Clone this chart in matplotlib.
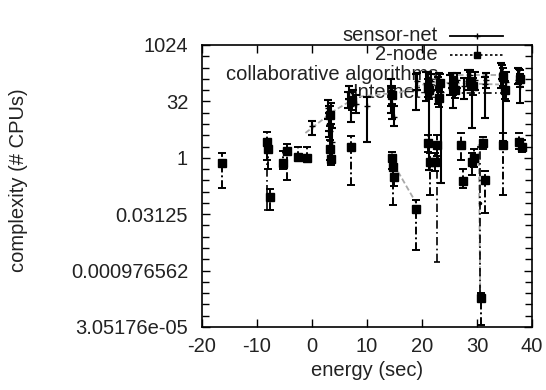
import numpy as np
import matplotlib
matplotlib.use('Agg')
import matplotlib.pyplot as plt
from matplotlib.ticker import NullFormatter

plt.rcParams['font.family'] = ['Liberation Sans', 'DejaVu Sans']
plt.rcParams['font.size'] = 14.5

# y values are given as log2(complexity)
# sensor-net: x, value, low, high
sn_x = [0.0, 2.9, 3.1, 3.3, 3.6, 3.4, 3.0, 6.6, 7.0, 7.5, 8.0, 6.8, 10.0, 14.3, 14.6,
        14.9, 14.4, 18.9, 19.1, 20.8, 21.2, 21.6, 21.0, 22.9, 23.4, 23.1, 25.0, 25.7,
        25.4, 26.4, 27.6, 28.4, 29.0, 29.7, 28.7, 31.4, 31.7, 34.4, 34.8, 35.2, 34.6,
        37.5, 37.9, 37.7]
sn_lg = [2.8, 4.4, 3.5, 2.4, 1.4, 4.0, 3.0, 5.2, 4.6, 5.5, 4.8, 5.8, 4.6, 6.0, 4.8,
         3.6, 5.4, 6.0, 6.8, 6.6, 5.6, 6.8, 7.2, 6.3, 5.8, 6.9, 6.6, 6.0,
         6.9, 6.9, 6.4, 6.8, 6.2, 6.9, 7.3, 6.5, 6.9, 7.0, 6.3, 6.7, 7.6,
         6.9, 6.4, 7.3]
sn_lo = [2.0, 3.4, 2.4, 1.0, 0.0, 3.0, 1.8, 4.4, 3.2, 5.0, 4.0, 5.2, 1.4, 4.6, 3.4,
         2.8, 4.0, 4.2, 6.0, 5.0, -1.1, 6.0, 6.4, 4.8, -2.2, 6.2, 5.6, 4.4,
         6.2, 6.2, 5.2, 6.0, 2.6, 6.0, 6.6, 3.5, 6.2, 6.2, 1.5, 5.0, 7.0,
         6.5, 4.9, 6.6]
sn_hi = [3.3, 5.1, 4.6, 3.6, 2.6, 4.9, 4.0, 5.8, 5.4, 6.0, 5.6, 6.4, 5.4, 7.0, 6.2,
         4.6, 6.4, 7.4, 7.5, 7.6, 6.8, 7.4, 7.6, 7.2, 6.6, 7.5, 7.3, 7.0,
         7.5, 7.5, 7.1, 7.8, 7.0, 7.6, 7.8, 7.2, 7.5, 8.4, 7.4, 7.6, 8.2,
         8.0, 7.4, 7.9]

# 2-node
tn_x = [-16.4, -8.2, -8.0, -7.6, -5.3, -4.6, -2.5, -0.9, 3.2, 3.4, 7.0, 14.5,
        14.8, 14.9, 18.9, 21.1, 21.4, 22.4, 22.8, 27.1, 27.4, 29.1, 29.5, 30.8,
        31.0, 31.5, 34.7, 37.6, 38.2, 21.0, 23.3, 25.6, 28.7, 34.7, 37.8,
        3.3, 7.2, 14.5, 21.3, 23.0, 26.0, 29.3, 35.0]
tn_lg = [-0.46, 1.4, 0.8, -3.5, -0.46, 0.6, 0.1, 0.0, 0.8, -0.1, 1.0, 0.0,
         -0.8, -1.7, -4.5, 1.3, -0.4, -0.4, 1.1, 1.1, -2.1, -0.4, 0.0, -12.4,
         1.3, -2.0, 1.1, 1.4, 1.0, 6.2, 6.6, 6.4, 6.7, 7.2, 7.0,
         3.8, 5.0, 5.6, 6.0, 5.3, 6.0, 6.4, 6.0]
tn_lo = [-2.7, -0.2, -1.0, -4.6, -1.0, -2.0, -0.1, -0.2, -0.2, -0.6, -2.4, -1.0,
         -4.2, -2.5, -8.2, 0.5, -3.3, -1.2, 0.2, -0.2, -2.7, -1.5, -0.8, -14.8,
         0.8, -4.9, -3.3, 0.8, 0.5, 5.4, 5.8, 5.6, 6.0, 6.4, 6.3,
         2.8, 4.2, 4.8, 5.2, 4.5, 5.3, 5.6, 5.2]
tn_hi = [0.4, 2.3, 1.6, -2.8, 0.6, 1.2, 1.0, 1.0, 1.6, 0.4, 1.9, 0.5,
         0.0, -0.8, -3.7, 2.0, 0.4, 0.4, 2.0, 2.2, -1.0, 0.4, 0.8, -12.0,
         1.8, -1.2, 2.2, 2.2, 1.6, 7.0, 7.4, 7.2, 7.6, 8.0, 7.8,
         4.6, 5.8, 6.4, 6.8, 6.0, 6.7, 7.1, 6.8]

# collaborative algorithms (gray line, nan = gap)
ca_x = [-1.2, 3.8, 8.2, 16.0, 21.5, 34.0, np.nan, 14.9, 18.8, np.nan, 30.3, 30.6]
ca_lg = [2.2, 4.1, 5.4, 5.8, 6.7, 6.5, np.nan, -0.6, -3.9, np.nan, 1.2, -12.5]

# Internet-2
in_x = [-8.1, 22.7, 30.6, 3.3]
in_lg = [0.6, 0.2, -4.0, 0.4]
in_lo = [-4.6, -9.2, -12.0, -0.5]
in_hi = [1.6, 1.0, 1.0, 1.5]

ytick_lg = [-15, -10, -5, 0, 5, 10]
ytick_labels = ['3.05176e-05', '0.000976562', '0.03125', '1', '32', '1024']
xticks = [-20, -10, 0, 10, 20, 30, 40]


def to_val(lg):
    return 2.0 ** np.asarray(lg, dtype=float)


def yerr(lg, lo, hi):
    v = to_val(lg)
    return [v - to_val(lo), to_val(hi) - v]


fig = plt.figure(figsize=(5.46, 3.90), dpi=100)
ax = fig.add_axes([202 / 546, 1 - 327 / 390, 330 / 546, 282 / 390])

# sensor-net
ax.errorbar(sn_x, to_val(sn_lg), yerr=yerr(sn_lg, sn_lo, sn_hi), fmt='+',
            color='black', ms=4, elinewidth=1.5, capsize=3, capthick=1.5, zorder=3)

# 2-node
eb = ax.errorbar(tn_x, to_val(tn_lg), yerr=yerr(tn_lg, tn_lo, tn_hi), fmt='s',
                 color='black', ms=5.5, elinewidth=1.4, capsize=3, capthick=1.4, zorder=3)
eb[2][0].set_linestyle((0, (4, 1.5, 1, 1.5)))

# collaborative algorithms
ax.plot(ca_x, to_val(ca_lg), color='#a8a8a8', lw=1.3, ls=(0, (3, 1.5)), zorder=2)

# Internet-2
eb2 = ax.errorbar(in_x, to_val(in_lg), yerr=yerr(in_lg, in_lo, in_hi), fmt='.',
                  color='black', ms=3, elinewidth=1.2, capsize=2, capthick=1.2, zorder=3)
eb2[2][0].set_linestyle((0, (5, 2, 1, 2)))

ax.set_yscale('log', base=2)
ax.set_ylim(2.0 ** -15, 2.0 ** 10)
ax.set_xlim(-20, 40)
ax.set_yticks(to_val(ytick_lg))
ax.set_yticklabels(ytick_labels)
ax.set_yticks(to_val(np.arange(-15, 11)), minor=True)
ax.yaxis.set_minor_formatter(NullFormatter())
ax.set_xticks(xticks)
ax.set_xticklabels([str(t) for t in xticks])
ax.tick_params(which='both', direction='in', top=True, right=True,
               length=6, width=1, colors='black', labelcolor='#222222')
ax.tick_params(axis='y', which='major', pad=10)
ax.tick_params(axis='x', which='major', pad=7)
ax.tick_params(which='minor', length=5)
for s in ax.spines.values():
    s.set_linewidth(1.2)

ax.set_xlabel('energy (sec)', color='#222222', labelpad=4)
ax.set_ylabel('complexity (# CPUs)', color='#222222')
ax.yaxis.set_label_coords((28 - 202) / 330, 0.52)

# gnuplot-style key
key = [('sensor-net', 1.032, dict(color='black', ls='-', lw=1.3), '+'),
       ('2-node', 0.965, dict(color='black', ls=(0, (1.5, 1.5)), lw=1.2), 's'),
       ('collaborative algorithms', 0.894, dict(color='#a8a8a8', ls=(0, (3, 1.5)), lw=1.3), None),
       ('Internet-2', 0.830, dict(color='black', ls=(0, (5, 2, 1, 2)), lw=1.2), None)]
for label, yk, style, mk in key:
    ax.text(0.715, yk, label, transform=ax.transAxes, ha='right', va='center',
            color='#222222', zorder=1, clip_on=False)
    ax.plot([0.752, 0.912], [yk, yk], transform=ax.transAxes, clip_on=False,
            zorder=1, **style)
    if mk:
        ax.plot([0.832], [yk], transform=ax.transAxes, clip_on=False, marker=mk,
                color='black', ms=5, zorder=1)

fig.savefig('out.png', dpi=100)
